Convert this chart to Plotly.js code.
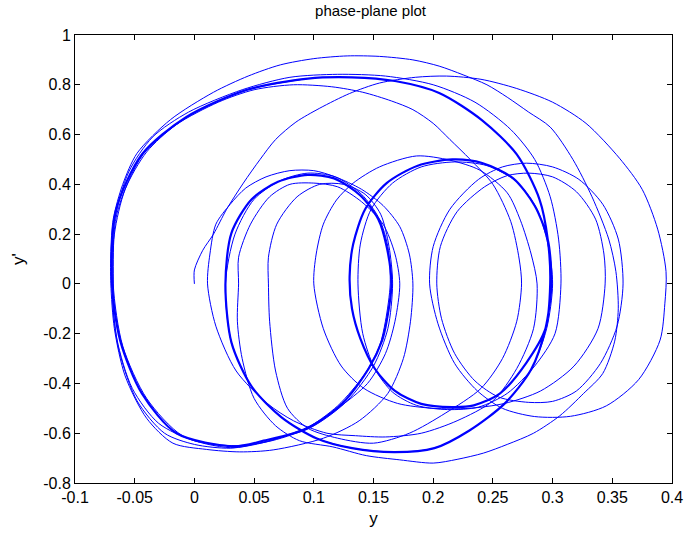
<!DOCTYPE html>
<html>
<head>
<meta charset="utf-8">
<script src="https://cdn.plot.ly/plotly-3.0.1.min.js"></script>
<style>html,body{margin:0;padding:0;background:#fff;}#chart{width:690px;height:536px;}</style>
</head>
<body>
<div id="chart"></div>
<script>
// Transient part of the trajectory (y, y')
const transY = [
  0,0.0,0.007,0.016,0.027,0.041,0.055,0.068,0.085,0.105,0.13,0.155,0.185,0.211,0.24,0.27,0.3,0.328,0.356,0.375,0.388,0.395,0.394,0.39,0.372,0.345,0.315,0.285,0.258,0.237,0.218,0.204,0.197,
  0.2,0.214,0.238,0.258,0.278,0.3,0.322,0.342,0.355,0.359,0.354,0.34,0.32,0.3,0.28,0.255,0.235,0.218,0.207,0.203,
  0.206,0.22,0.243,0.262,0.28,0.3,0.32,0.336,0.343,0.344,0.338,0.318,0.29,0.26,0.23,0.2,0.17,0.142,0.123,0.108,0.1,
  0.102,0.108,0.119,0.133,0.155,0.186,0.214,0.239,0.262,0.273,0.282,0.287,0.284,0.27,0.25,0.22,0.19,0.16,0.135,0.111,0.083,0.061,0.035,0.018,0.011,
  0.013,0.018,0.03,0.043,0.06,0.08,0.1,0.118,0.14,0.158,0.172,0.18,0.183,0.181,0.175,0.162,0.138,0.108,0.066,0.038,0.01,-0.018,-0.04,-0.058,-0.067,-0.07,
  -0.07,-0.068,-0.06,-0.048,-0.02,0.016,0.045,0.072,0.1,0.128,0.155,0.183,0.205,0.225,0.245,0.262,0.28,0.298,0.317,0.333,0.347,0.353,0.355,0.352,0.342,0.326,0.306,0.284,0.262,0.242,0.22,0.2,0.172,0.144,0.116,0.088,0.068,0.05,0.04,0.036,0.037,
  0.037,0.047,0.063,0.08,0.1,0.12,0.14,0.158,0.168,0.172,0.168,0.16,0.145,0.12,0.095,0.06,0.03,0.0,-0.025,-0.048,-0.063,-0.068,-0.068,
  -0.067,-0.058,-0.04,-0.015,0.02,0.05,0.083,0.115,0.141,0.165,0.183,0.2,0.214,0.231,0.25,0.265,0.272,0.274,0.27,0.258,0.24,0.21,0.18,0.15,0.12,0.095,0.078,0.068,0.063,0.062,
  0.062,0.069,0.086,0.105,0.125,0.143,0.156,0.163,0.166,0.162,0.15,0.128,0.1,0.065,0.035,0.0,-0.03,-0.052,-0.065,-0.069,
  -0.067,-0.055,-0.035,-0.005,0.04,0.08,0.12,0.16,0.2,0.235,0.265,0.285,0.298,0.305,0.307,0.302,0.285,0.262,0.238,0.212,0.186,0.166,0.151,0.141,0.137,
  0.139,0.148,0.166,0.19,0.218,0.245,0.27,0.287,0.296,0.3,0.295,0.282,0.26,0.23,0.201,0.168,0.132,0.102,0.073,0.048,0.031,0.026,
  0.034,0.05,0.072,0.095,0.118,0.14,0.155,0.162,0.164,0.16,0.155,0.143,0.12,0.092,0.058,0.03,-0.01,-0.04,-0.06,-0.068,-0.065,-0.043,-0.006,0.045,0.095
];
const transV = [
  0,0.056,0.135,0.2,0.3,0.405,0.5,0.58,0.65,0.706,0.765,0.807,0.83,0.835,0.822,0.785,0.73,0.645,0.505,0.38,0.22,0.05,-0.08,-0.226,-0.385,-0.49,-0.532,-0.533,-0.5,-0.43,-0.32,-0.16,0,
  0.15,0.3,0.42,0.47,0.485,0.47,0.42,0.32,0.18,0,-0.17,-0.32,-0.43,-0.472,-0.476,-0.455,-0.39,-0.28,-0.14,0,
  0.15,0.29,0.39,0.435,0.445,0.43,0.37,0.26,0.12,0,-0.18,-0.33,-0.43,-0.48,-0.5,-0.5,-0.48,-0.42,-0.33,-0.18,0,
  0.12,0.24,0.337,0.405,0.47,0.514,0.497,0.457,0.366,0.256,0.12,0,-0.18,-0.34,-0.47,-0.55,-0.6,-0.615,-0.61,-0.6,-0.55,-0.48,-0.35,-0.17,0,
  0.12,0.24,0.32,0.385,0.43,0.455,0.455,0.43,0.38,0.315,0.23,0.12,0,-0.15,-0.3,-0.44,-0.55,-0.62,-0.667,-0.675,-0.665,-0.64,-0.54,-0.37,-0.18,0,
  0.13,0.26,0.4,0.525,0.66,0.77,0.835,0.88,0.905,0.916,0.914,0.9,0.875,0.84,0.8,0.75,0.69,0.63,0.5,0.35,0.18,0.05,-0.1,-0.23,-0.36,-0.44,-0.53,-0.6,-0.645,-0.68,-0.705,-0.72,-0.707,-0.69,-0.655,-0.63,-0.57,-0.46,-0.3,-0.15,0,
  0.107,0.24,0.35,0.4,0.405,0.39,0.33,0.24,0.12,0,-0.15,-0.28,-0.4,-0.5,-0.575,-0.635,-0.66,-0.645,-0.6,-0.47,-0.27,-0.1,0,
  0.2,0.38,0.53,0.64,0.73,0.78,0.8,0.792,0.77,0.735,0.7,0.645,0.58,0.5,0.4,0.25,0.1,0,-0.15,-0.3,-0.42,-0.52,-0.6,-0.64,-0.62,-0.58,-0.5,-0.35,-0.15,0,
  0.107,0.24,0.35,0.4,0.4,0.36,0.28,0.15,0,-0.18,-0.33,-0.47,-0.57,-0.63,-0.65,-0.63,-0.56,-0.42,-0.22,0,
  0.25,0.45,0.59,0.69,0.78,0.83,0.842,0.835,0.8,0.73,0.62,0.5,0.35,0.18,0,-0.2,-0.33,-0.44,-0.495,-0.505,-0.488,-0.435,-0.34,-0.2,0,
  0.16,0.3,0.405,0.47,0.49,0.475,0.41,0.3,0.16,0,-0.18,-0.344,-0.48,-0.59,-0.66,-0.676,-0.66,-0.62,-0.536,-0.413,-0.235,0,
  0.2,0.34,0.415,0.445,0.43,0.36,0.26,0.15,0,-0.15,-0.25,-0.36,-0.49,-0.585,-0.635,-0.658,-0.61,-0.46,-0.25,0,0.28,0.52,0.67,0.78,0.825
];

// Settled (repeating) orbit, one cycle
const orbitY = [
  0.095,0.132,0.168,0.205,0.241,0.27,0.289,0.296,0.298,
  0.294,0.278,0.256,0.234,0.216,0.19,0.168,0.151,0.139,0.132,0.13,
  0.133,0.143,0.161,0.187,0.216,0.241,0.267,0.285,0.296,0.299,
  0.294,0.282,0.26,0.23,0.201,0.168,0.132,0.102,0.073,0.048,0.031,0.026,
  0.031,0.048,0.07,0.095,0.117,0.139,0.154,0.161,0.165,
  0.161,0.157,0.146,0.124,0.095,0.058,0.033,
  -0.015,-0.044,-0.062,-0.069,-0.066,-0.044,-0.007,0.044,0.095
];
const orbitV = [
  0.825,0.83,0.815,0.767,0.657,0.52,0.34,0.177,0,
  -0.18,-0.317,-0.44,-0.488,-0.495,-0.482,-0.43,-0.34,-0.22,-0.1,0.03,
  0.16,0.3,0.405,0.475,0.5,0.486,0.424,0.314,0.177,0,
  -0.18,-0.344,-0.48,-0.59,-0.66,-0.676,-0.66,-0.62,-0.536,-0.413,-0.235,0,
  0.204,0.34,0.41,0.438,0.424,0.355,0.26,0.15,0,
  -0.15,-0.23,-0.34,-0.48,-0.58,-0.63,-0.653,
  -0.6,-0.44,-0.23,0,0.29,0.52,0.67,0.78,0.825
];

const xTicks = [-0.1,-0.05,0,0.05,0.1,0.15,0.2,0.25,0.3,0.35,0.4];
const xTickText = ['-0.1','-0.05','0','0.05','0.1','0.15','0.2','0.25','0.3','0.35','0.4'];
const yTicks = [-0.8,-0.6,-0.4,-0.2,0,0.2,0.4,0.6,0.8,1];
const yTickText = ['-0.8','-0.6','-0.4','-0.2','0','0.2','0.4','0.6','0.8','1'];

const blue = '#0000ff';
const fontFam = 'Liberation Sans, Arial, sans-serif';
const traces = [
  {x: transY, y: transV, type: 'scatter', mode: 'lines',
   line: {color: blue, width: 1, shape: 'spline', smoothing: 0.8}, hoverinfo: 'skip'},
  {x: orbitY, y: orbitV, type: 'scatter', mode: 'lines',
   line: {color: blue, width: 2.2, shape: 'spline', smoothing: 0.8}, hoverinfo: 'skip'}
];

const axisCommon = {
  showline: true, mirror: 'ticks', linecolor: '#000', linewidth: 1,
  ticks: 'inside', ticklen: 5, tickcolor: '#000', tickwidth: 1,
  showgrid: false, zeroline: false, tickmode: 'array',
  tickfont: {family: fontFam, size: 16, color: '#000'}
};

const layout = {
  width: 690, height: 536,
  margin: {l: 75, r: 18, t: 35, b: 53},
  paper_bgcolor: '#fff', plot_bgcolor: '#fff',
  showlegend: false,
  title: {text: 'phase-plane plot', x: 0.537, xanchor: 'center', y: 0.99, yanchor: 'top',
          font: {family: fontFam, size: 15, color: '#000'}},
  xaxis: Object.assign({}, axisCommon, {
    range: [-0.1, 0.4], tickvals: xTicks, ticktext: xTickText,
    title: {text: 'y', standoff: 6, font: {family: fontFam, size: 17, color: '#000'}}
  }),
  yaxis: Object.assign({}, axisCommon, {
    range: [-0.8, 1], tickvals: yTicks, ticktext: yTickText,
    title: {text: "y'", standoff: 14, font: {family: fontFam, size: 17, color: '#000'}}
  })
};

Plotly.newPlot('chart', traces, layout, {displayModeBar: false, staticPlot: true});
</script>
</body>
</html>
